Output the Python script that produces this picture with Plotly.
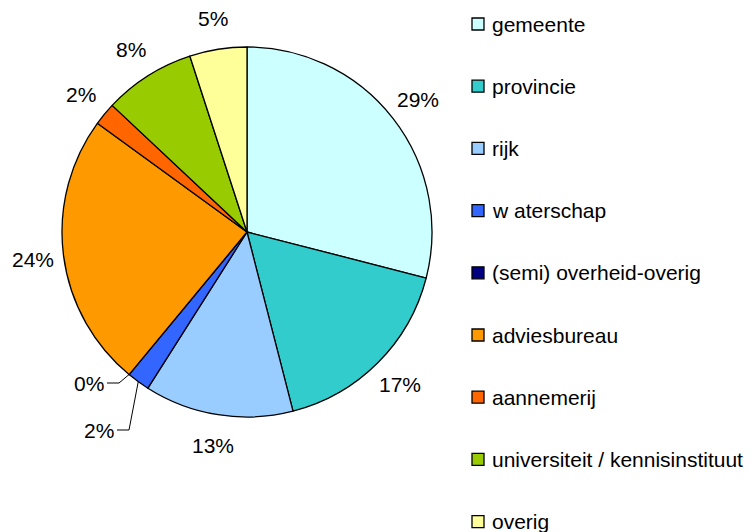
import math
import plotly.graph_objects as go

categories = ["gemeente", "provincie", "rijk", "w aterschap", "(semi) overheid-overig",
              "adviesbureau", "aannemerij", "universiteit / kennisinstituut", "overig"]
values = [29, 17, 13, 2, 0, 24, 2, 8, 5]
colors = ["#CCFFFF", "#33CCCC", "#99CCFF", "#3366FF", "#000080",
          "#FF9900", "#FF6600", "#99CC00", "#FFFF99"]

OFF = 8  # page body margin
W, H = 752 - OFF, 532 - OFF
CX, CY, R = 247, 232, 185
FONT = "Liberation Sans, Arial, sans-serif"
FS = 21

def px(x):
    return (x - OFF) / W

def py(y):
    return 1 - (y - OFF) / H

fig = go.Figure(go.Pie(
    labels=categories, values=values, sort=False, direction="clockwise", rotation=0,
    marker=dict(colors=colors, line=dict(color="black", width=1.3)),
    textinfo="none", hoverinfo="label+percent", showlegend=False,
    domain=dict(x=[px(CX - R), px(CX + R)], y=[py(CY + R), py(CY - R)]),
))

total = sum(values)
annotations = []
shapes = []
leader = {3: ((129, 430), (117, 430)), 4: ((119, 383), (107, 383))}
cum = 0
for i, v in enumerate(values):
    mid = (cum + v / 2) / total * 2 * math.pi
    cum += v
    pct = f"{round(100 * v / total)}%"
    if i in leader:
        ex = CX + R * math.sin(mid)
        ey = CY - R * math.cos(mid)
        (bx, by), (tx, ty) = leader[i]
        shapes.append(dict(type="path", xref="paper", yref="paper",
                           path=f"M {px(ex)} {py(ey)} L {px(bx)} {py(by)} L {px(tx)} {py(ty)}",
                           line=dict(color="black", width=1)))
        annotations.append(dict(x=px(tx - 1), y=py(ty), xref="paper", yref="paper",
                                text=pct, showarrow=False, xanchor="right", yanchor="middle",
                                font=dict(family=FONT, size=FS, color="black")))
    else:
        rl = 216
        lx = CX + rl * math.sin(mid)
        ly = CY - rl * math.cos(mid)
        annotations.append(dict(x=px(lx), y=py(ly), xref="paper", yref="paper",
                                text=pct, showarrow=False, xanchor="center", yanchor="middle",
                                font=dict(family=FONT, size=FS, color="black")))

# manual legend
for i, (c, lab) in enumerate(zip(colors, categories)):
    yc = 24 + 62.2 * i
    shapes.append(dict(type="rect", xref="paper", yref="paper",
                       x0=px(472), x1=px(484), y0=py(yc + 6), y1=py(yc - 6),
                       fillcolor=c, line=dict(color="black", width=1.3)))
    annotations.append(dict(x=px(490), y=py(yc), xref="paper", yref="paper",
                            text=lab, showarrow=False, xanchor="left", yanchor="middle",
                            font=dict(family=FONT, size=FS, color="black")))

fig.update_layout(width=W, height=H, margin=dict(l=0, r=0, t=0, b=0),
                  paper_bgcolor="white", plot_bgcolor="white",
                  annotations=annotations, shapes=shapes)
fig.write_html("out.html")
